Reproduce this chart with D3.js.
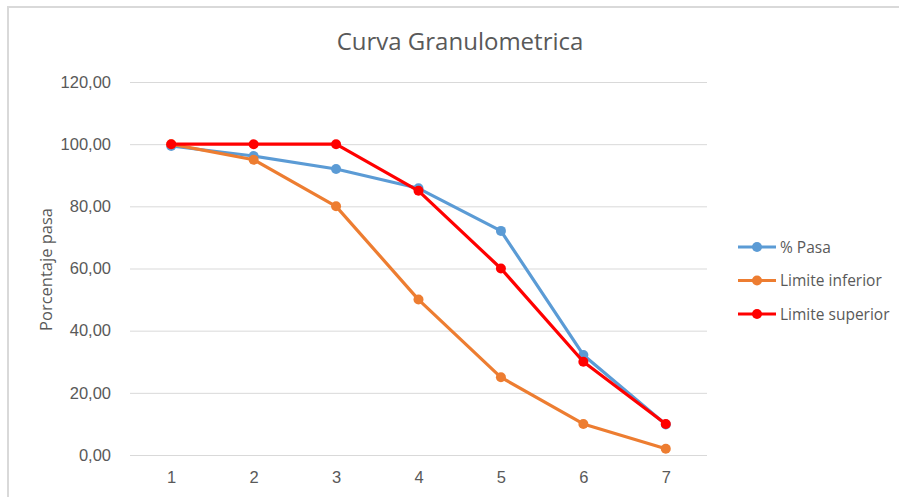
<!DOCTYPE html>
<html>
<head>
<meta charset="utf-8">
<script src="https://cdn.jsdelivr.net/npm/d3@7"></script>
<style>
  body { margin: 0; background: #fff; }
  svg { font-family: "Open Sans", Lato, sans-serif; }
</style>
</head>
<body>
<div id="chart"></div>
<script>
// chart data
const categories = ["1", "2", "3", "4", "5", "6", "7"];
const pasa = [99.4, 96.2, 92.0, 85.8, 72.1, 32.2, 9.8];
const limiteInferior = [100, 95, 80, 50, 25, 10, 2];
const limiteSuperior = [100, 100, 100, 85, 60, 30, 10];
const yTicks = [0, 20, 40, 60, 80, 100, 120];

const series = [
  { name: "% Pasa", values: pasa, color: "#5b9bd5" },
  { name: "Limite inferior", values: limiteInferior, color: "#ed7d31" },
  { name: "Limite superior", values: limiteSuperior, color: "#ff0000" }
];

const width = 899, height = 497;
const plot = { left: 130, right: 707, top: 82, bottom: 455 };

const svg = d3.select("#chart").append("svg")
  .attr("width", width)
  .attr("height", height);

// outer frame (only top & left visible in the crop)
svg.append("path")
  .attr("d", "M8,497 V7 H899")
  .attr("fill", "none")
  .attr("stroke", "#d9d9d9")
  .attr("stroke-width", 2);

const x = d3.scalePoint()
  .domain(categories)
  .range([plot.left, plot.right])
  .padding(0.5);

const y = d3.scaleLinear()
  .domain([0, 120])
  .range([plot.bottom, plot.top]);

const fmt = v => d3.format(".2f")(v).replace(".", ",");

// gridlines
svg.append("g")
  .selectAll("line")
  .data(yTicks)
  .enter()
  .append("line")
  .attr("x1", plot.left)
  .attr("x2", plot.right)
  .attr("y1", d => y(d) + 0.5)
  .attr("y2", d => y(d) + 0.5)
  .attr("stroke", "#d9d9d9")
  .attr("stroke-width", 1);

// y axis labels
const yAxis = svg.append("g")
  .attr("transform", "translate(" + (plot.left - 16) + ",0)")
  .call(d3.axisLeft(y).tickValues(yTicks).tickFormat(fmt).tickSize(0));
yAxis.select(".domain").remove();
yAxis.selectAll("text")
  .attr("fill", "#595959")
  .style("font-size", "16.5px");

// x axis labels
const xAxis = svg.append("g")
  .attr("transform", "translate(0," + (plot.bottom + 13) + ")")
  .call(d3.axisBottom(x).tickSize(0));
xAxis.select(".domain").remove();
xAxis.selectAll("text")
  .attr("fill", "#595959")
  .style("font-size", "16.5px");

// title
svg.append("text")
  .attr("x", 460)
  .attr("y", 50)
  .attr("text-anchor", "middle")
  .attr("fill", "#595959")
  .style("font-size", "24px")
  .text("Curva Granulometrica");

// y axis title
svg.append("text")
  .attr("transform", "translate(52," + ((plot.top + plot.bottom) / 2 + 1) + ") rotate(-90)")
  .attr("text-anchor", "middle")
  .attr("fill", "#595959")
  .style("font-size", "16.5px")
  .text("Porcentaje pasa");

const line = d3.line()
  .x((d, i) => x(categories[i]))
  .y(d => y(d));

series.forEach(s => {
  const g = svg.append("g");
  g.append("path")
    .datum(s.values)
    .attr("d", line)
    .attr("fill", "none")
    .attr("stroke", s.color)
    .attr("stroke-width", 3.2)
    .attr("stroke-linejoin", "round");
  g.selectAll("circle")
    .data(s.values)
    .enter()
    .append("circle")
    .attr("cx", (d, i) => x(categories[i]))
    .attr("cy", d => y(d))
    .attr("r", 5)
    .attr("fill", s.color);
});

// legend
const legend = svg.append("g")
  .attr("transform", "translate(738,247)");
series.forEach((s, i) => {
  const row = legend.append("g").attr("transform", "translate(0," + (i * 33.5) + ")");
  row.append("line")
    .attr("x1", 0).attr("x2", 38)
    .attr("stroke", s.color)
    .attr("stroke-width", 3.2);
  row.append("circle")
    .attr("cx", 19).attr("r", 5)
    .attr("fill", s.color);
  row.append("text")
    .attr("x", 42)
    .attr("y", 5.5)
    .attr("fill", "#595959")
    .style("font-size", "15.5px")
    .text(s.name);
});
</script>
</body>
</html>
